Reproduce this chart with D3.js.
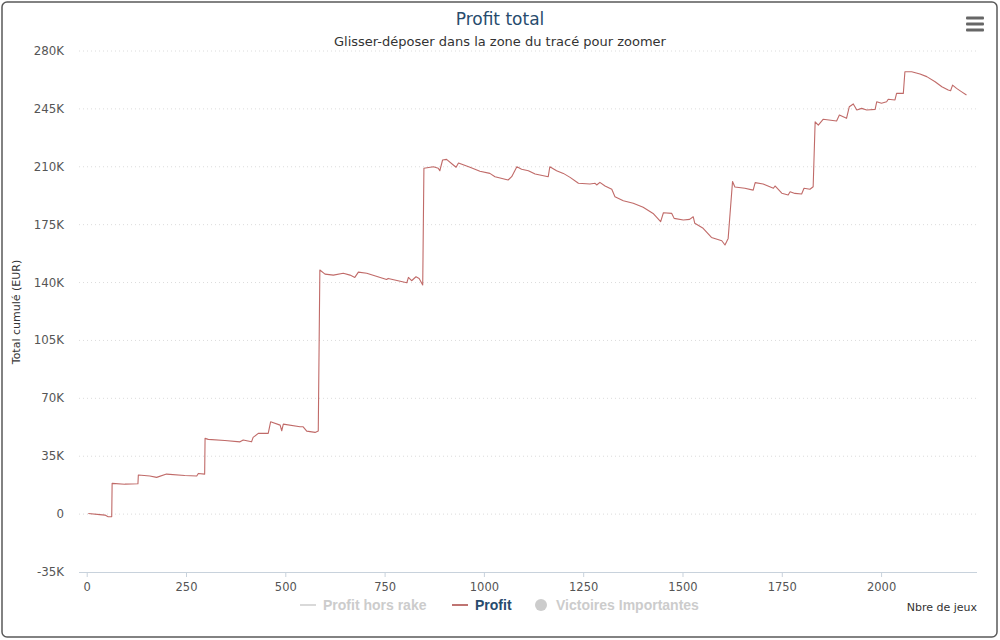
<!DOCTYPE html>
<html><head><meta charset="utf-8">
<script src="https://cdnjs.cloudflare.com/ajax/libs/d3/7.8.5/d3.min.js"></script>
<style>body{margin:0;background:#fff}svg{display:block}</style>
</head><body><div id="chart"></div>
<script>
const games = [4,33,46,54,63,64,96,129,130,159,176,201,247,277,281,297,298,306,348,386,394,415,419,432,457,463,487,491,495,537,545,554,575,583,587,600,621,646,663,675,684,705,755,759,806,810,818,829,837,846,849,873,885,889,896,906,923,930,936,965,990,1015,1028,1061,1070,1083,1095,1112,1129,1162,1166,1183,1200,1217,1238,1267,1280,1284,1292,1305,1322,1330,1351,1376,1401,1426,1445,1452,1473,1479,1502,1518,1527,1531,1552,1573,1599,1607,1615,1626,1632,1657,1678,1683,1703,1729,1733,1750,1766,1771,1783,1800,1806,1821,1829,1834,1842,1854,1888,1895,1913,1920,1930,1939,1951,1964,1985,1989,2001,2014,2018,2035,2039,2056,2060,2077,2098,2115,2136,2153,2169,2175,2180,2190,2203,2215];
const profit = [400,-300,-600,-1600,-1500,18600,18100,18400,23600,23000,22200,24200,23300,23000,24600,24200,45800,45200,44500,43700,44800,43700,46400,48800,48800,55800,53800,50400,54400,52800,52800,50200,49400,50200,147600,145100,144500,145600,144500,143100,146300,145600,141900,142500,139900,143100,141100,143500,142500,138500,209100,210000,209100,207600,214100,214500,211100,209700,212300,209700,207300,206000,204000,202000,204000,210000,208500,207600,205600,204000,210000,207600,206000,203600,200000,199600,200000,199000,200600,198400,196400,191900,189500,187900,185500,181800,176800,182200,181800,178800,177800,178200,179800,175800,172800,167300,165300,162700,166700,201100,197800,197000,195900,200400,199600,197000,198400,194000,192900,194900,193900,193500,197000,196400,197900,237200,235200,238700,237700,241300,239300,246300,248000,244300,245300,244300,244700,249300,248400,249300,250800,250400,254400,254400,267500,267500,266100,264500,261400,258400,256400,256000,259400,257400,255300,253400];
const yTicks = [-35000,0,35000,70000,105000,140000,175000,210000,245000,280000];
const xTicks = [0,250,500,750,1000,1250,1500,1750,2000];
const legendItems = ["Profit hors rake","Profit","Victoires Importantes"];
const title = "Profit total";
const subtitle = "Glisser-déposer dans la zone du tracé pour zoomer";
const yTitle = "Total cumulé (EUR)";
const xTitle = "Nbre de jeux";

const W=1000,H=640;
const font = "'DejaVu Sans', Verdana, sans-serif";
const svg = d3.select("#chart").append("svg").attr("width",W).attr("height",H);
svg.append("rect").attr("x",2).attr("y",2).attr("width",995).attr("height",635).attr("rx",5)
  .attr("fill","#fff").attr("stroke","#5a5a5a").attr("stroke-width",1.5);

const L=79,R=977,T=51,B=572;
const x = d3.scaleLinear().domain([-19.4,2241.5]).range([L,R]);
const y = d3.scaleLinear().domain([-35000,280000]).range([B,T]);

// grid
svg.append("g").selectAll("line").data(yTicks.filter(d=>d>-35000)).join("line")
  .attr("x1",L).attr("x2",R).attr("y1",d=>y(d)).attr("y2",d=>y(d))
  .attr("stroke","#dcdcdc").attr("stroke-dasharray","1,3");

// y labels
const fmt = d => d===0 ? "0" : (d/1000)+"K";
svg.append("g").selectAll("text").data(yTicks).join("text")
  .attr("x",64).attr("y",d=>y(d)+4).attr("text-anchor","end")
  .attr("font-family",font).attr("font-size",11.8).attr("fill","#555").text(fmt);

// x axis
const xg = svg.append("g").attr("transform",`translate(0,${B})`)
  .call(d3.axisBottom(x).tickValues(xTicks).tickFormat(d3.format("d")).tickSize(5).tickPadding(6));
xg.select(".domain").attr("stroke","#c8d2dc").attr("d",`M${L},0.5H${R}`);
xg.selectAll(".tick line").attr("stroke","#c8d2dc");
xg.selectAll(".tick text").attr("font-family",font).attr("font-size",11.5).attr("fill","#555");

// line
const line = d3.line().x((d,i)=>x(games[i])).y((d,i)=>y(profit[i]));
svg.append("path").datum(profit).attr("d",line).attr("fill","none")
  .attr("stroke","#b5504d").attr("stroke-opacity",0.85).attr("stroke-width",1.1).attr("stroke-linejoin","round");

// titles
svg.append("text").attr("x",500).attr("y",25).attr("text-anchor","middle")
  .attr("font-family",font).attr("font-size",17).attr("fill","#274b6d").text(title);
svg.append("text").attr("x",500).attr("y",46).attr("text-anchor","middle")
  .attr("font-family",font).attr("font-size",13).attr("fill","#333").text(subtitle);
svg.append("text").attr("transform","translate(20,312) rotate(-90)").attr("text-anchor","middle")
  .attr("font-family",font).attr("font-size",11).attr("fill","#333").text(yTitle);
svg.append("text").attr("x",977).attr("y",611).attr("text-anchor","end")
  .attr("font-family",font).attr("font-size",11).attr("fill","#333").text(xTitle);

// legend
const lf = "'Liberation Sans',Arial,sans-serif";
const lg = svg.append("g").attr("font-family",lf).attr("font-size",14).attr("font-weight","bold");
lg.append("line").attr("x1",300).attr("x2",316).attr("y1",605).attr("y2",605).attr("stroke","#ccc").attr("stroke-width",1.5);
lg.append("text").attr("x",323).attr("y",610).attr("fill","#ccc").text(legendItems[0]);
lg.append("line").attr("x1",452).attr("x2",468).attr("y1",605).attr("y2",605).attr("stroke","#AA4643").attr("stroke-width",1.5);
lg.append("text").attr("x",475).attr("y",610).attr("fill","#274b6d").text(legendItems[1]);
lg.append("circle").attr("cx",541).attr("cy",605).attr("r",6).attr("fill","#ccc");
lg.append("text").attr("x",556).attr("y",610).attr("fill","#ccc").text(legendItems[2]);

// menu icon
const mi = svg.append("g");
[18,24,30].forEach(yy=>mi.append("rect").attr("x",966).attr("y",yy-1.5).attr("width",18).attr("height",3).attr("rx",1).attr("fill","#666"));
</script></body></html>
